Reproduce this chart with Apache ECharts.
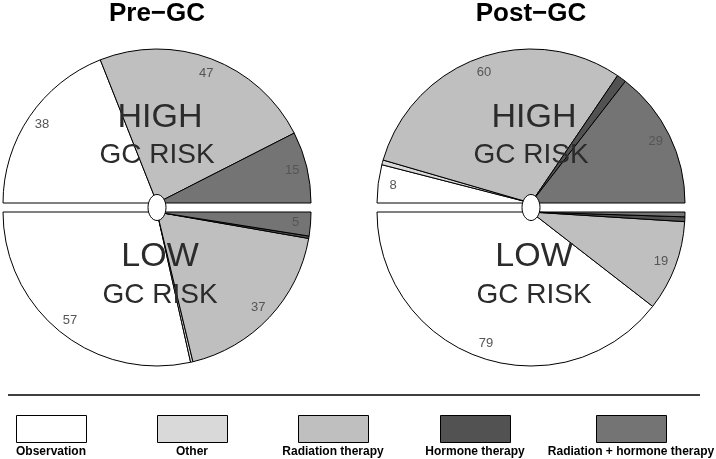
<!DOCTYPE html>
<html>
<head>
<meta charset="utf-8">
<script src="https://cdn.jsdelivr.net/npm/echarts@6/dist/echarts.min.js"></script>
<style>
html,body{margin:0;padding:0;background:#fff;}
#chart{width:716px;height:459px;}
</style>
</head>
<body>
<div id="chart"></div>
<script>
// ---- data ----
const categories = ['Observation', 'Other', 'Radiation therapy', 'Hormone therapy', 'Radiation + hormone therapy'];
const panelTitles = ['Pre\u2212GC', 'Post\u2212GC'];
const riskTop = ['HIGH', 'GC RISK'];
const riskBottom = ['LOW', 'GC RISK'];
const preHigh = [38, 0, 47, 0, 15];
const preLow = [57, 0.5, 37, 0.5, 5];
const postHigh = [8, 1, 60, 2, 29];
const postLow = [79, 0, 19, 1, 1];

// ---- styles / layout ----
const colors = ['#ffffff', '#d9d9d9', '#bfbfbf', '#525252', '#747474'];
const FONT = 'Liberation Sans, Arial, sans-serif';
const R = 154;
const panels = [
  { cx: 157, high: preHigh, low: preLow, title: panelTitles[0] },
  { cx: 531, high: postHigh, low: postLow, title: panelTitles[1] }
];
const topY = 203, botY = 212;

function items(vals, colored) {
  return vals.map((v, i) => colored
      ? { name: categories[i], value: v, itemStyle: { color: colors[i] } }
      : { name: categories[i], value: v })
    .filter(d => d.value > 0);
}

const series = [];
panels.forEach(p => {
  [[p.high, topY, 0, true], [p.low, botY, 360, false]].forEach(([vals, cy, endA, cw]) => {
    series.push({
      type: 'pie', center: [p.cx, cy], radius: [0, R],
      startAngle: 180, endAngle: endA, clockwise: cw,
      silent: true, animation: false, avoidLabelOverlap: false,
      label: { show: false }, labelLine: { show: false },
      itemStyle: { borderColor: '#000', borderWidth: 1 },
      data: items(vals, true)
    });
    series.push({
      type: 'pie', center: [p.cx, cy], radius: [118, R],
      startAngle: 180, endAngle: endA, clockwise: cw,
      silent: true, animation: false, avoidLabelOverlap: false,
      labelLine: { show: false },
      label: {
        show: true, position: 'inside', color: '#555', fontSize: 13, fontFamily: FONT,
        formatter: d => d.value >= 5 ? String(Math.round(d.value)) : ''
      },
      itemStyle: { color: 'rgba(0,0,0,0)', borderWidth: 0, opacity: 1 },
      data: items(vals, false)
    });
  });
});

const graphic = [];
panels.forEach(p => {
  graphic.push({ type: 'ellipse', shape: { cx: p.cx, cy: (topY + botY) / 2, rx: 9, ry: 13 },
    style: { fill: '#fff', stroke: '#000', lineWidth: 1 }, z: 100 });
  graphic.push({ type: 'text', x: p.cx + 3, y: 118, z: 100,
    style: { text: riskTop[0], font: '34px ' + FONT, fill: '#2b2b2b', textAlign: 'center', textVerticalAlign: 'middle' } });
  graphic.push({ type: 'text', x: p.cx, y: 155, z: 100,
    style: { text: riskTop[1], font: '28px ' + FONT, fill: '#2b2b2b', textAlign: 'center', textVerticalAlign: 'middle' } });
  graphic.push({ type: 'text', x: p.cx + 3, y: 257, z: 100,
    style: { text: riskBottom[0], font: '34px ' + FONT, fill: '#2b2b2b', textAlign: 'center', textVerticalAlign: 'middle' } });
  graphic.push({ type: 'text', x: p.cx + 3, y: 295, z: 100,
    style: { text: riskBottom[1], font: '28px ' + FONT, fill: '#2b2b2b', textAlign: 'center', textVerticalAlign: 'middle' } });
  graphic.push({ type: 'text', x: p.cx, y: 14, z: 100,
    style: { text: p.title, font: 'bold 26px ' + FONT, fill: '#000', textAlign: 'center', textVerticalAlign: 'middle' } });
});
// legend
graphic.push({ type: 'line', shape: { x1: 8, y1: 395, x2: 700, y2: 395 }, style: { stroke: '#000', lineWidth: 1.5 } });
const boxX = [16, 157, 298, 440, 596];
categories.forEach((c, i) => {
  graphic.push({ type: 'rect', shape: { x: boxX[i] + 0.5, y: 415.5, width: 70, height: 27 },
    style: { fill: colors[i], stroke: '#000', lineWidth: 1 } });
  graphic.push({ type: 'text', x: boxX[i] + 35, y: 452,
    style: { text: c, font: 'bold 12px ' + FONT, fill: '#000', textAlign: 'center', textVerticalAlign: 'middle' } });
});

const chart = echarts.init(document.getElementById('chart'), null, { renderer: 'canvas' });
chart.setOption({ animation: false, series, graphic });
</script>
</body>
</html>
